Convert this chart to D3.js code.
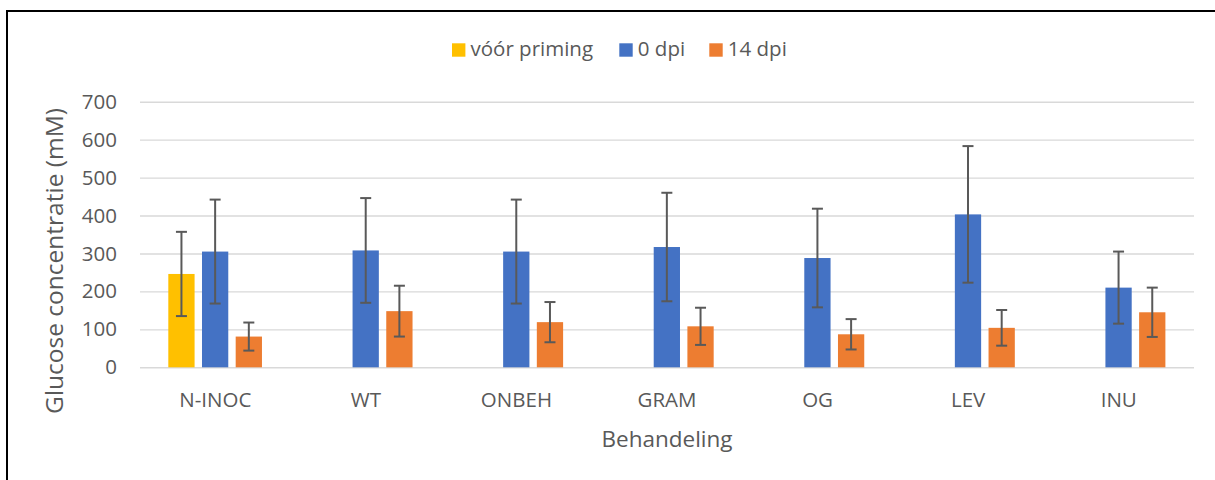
<!DOCTYPE html>
<html>
<head>
<meta charset="utf-8">
<script src="https://cdn.jsdelivr.net/npm/d3@7"></script>
<style>
  html, body { margin: 0; padding: 0; background: #fff; }
  svg text { font-family: "Open Sans", sans-serif; fill: #595959; }
</style>
</head>
<body>
<svg id="chart" width="1215" height="480"></svg>
<script>
// Glucose concentration per treatment, three sampling moments
const categories = ["N-INOC", "WT", "ONBEH", "GRAM", "OG", "LEV", "INU"];
const seriesNames = ["vóór priming", "0 dpi", "14 dpi"];
const seriesColors = ["#FFC000", "#4472C4", "#ED7D31"];

const voorPriming = [246, null, null, null, null, null, null];
const dpi0 = [305, 308, 305, 317, 288, 403, 210];
const dpi14 = [81, 148, 119, 108, 87, 104, 145];

// error bar half-widths (± value)
const errVoorPriming = [111, null, null, null, null, null, null];
const errDpi0 = [137, 138, 137, 143, 130, 180, 95];
const errDpi14 = [37, 67, 53, 49, 40, 47, 65];

const yTicks = [0, 100, 200, 300, 400, 500, 600, 700];
const yTitle = "Glucose concentratie (mM)";
const xTitle = "Behandeling";

const seriesValues = [voorPriming, dpi0, dpi14];
const seriesErrors = [errVoorPriming, errDpi0, errDpi14];

const svg = d3.select("#chart");

// outer frame
svg.append("rect")
  .attr("x", 7).attr("y", 11)
  .attr("width", 1220).attr("height", 480)
  .attr("fill", "none").attr("stroke", "#000").attr("stroke-width", 2);

const plot = { left: 140, right: 1194, top: 101.7, bottom: 367.3 };

const x = d3.scaleBand().domain(categories).range([plot.left, plot.right]).padding(0);
const band = x.bandwidth();
const xs = d3.scaleBand().domain(seriesNames)
  .range([band * 0.188, band * 0.81]).paddingInner(0.22);
const y = d3.scaleLinear().domain([0, 700]).range([plot.bottom, plot.top]);

// value axis with gridlines
const yAxis = svg.append("g")
  .attr("transform", `translate(${plot.left},0)`)
  .call(d3.axisLeft(y).tickValues(yTicks).tickSize(-(plot.right - plot.left)).tickPadding(23));
yAxis.select(".domain").remove();
yAxis.selectAll(".tick line").attr("stroke", "#d9d9d9").attr("stroke-width", 1.4);
yAxis.selectAll(".tick text").attr("font-size", 20.5).style("fill", "#595959");

// category axis
const xAxis = svg.append("g")
  .attr("transform", `translate(0,${plot.bottom})`)
  .call(d3.axisBottom(x).tickSize(0));
xAxis.select(".domain").remove();
xAxis.selectAll(".tick text")
  .attr("font-size", 20.5).attr("dy", null).attr("y", 407 - plot.bottom)
  .style("fill", "#595959");

// bars + error bars
seriesNames.forEach((name, si) => {
  const g = svg.append("g");
  const rows = categories.map((c, i) => ({ c, v: seriesValues[si][i], e: seriesErrors[si][i] }))
    .filter(d => d.v != null);

  g.selectAll("rect").data(rows).join("rect")
    .attr("x", d => x(d.c) + xs(name))
    .attr("width", xs.bandwidth())
    .attr("y", d => y(d.v))
    .attr("height", d => y(0) - y(d.v))
    .attr("fill", seriesColors[si]);

  const eb = g.selectAll("g.err").data(rows.filter(d => d.e != null)).join("g").attr("class", "err");
  const cx = d => x(d.c) + xs(name) + xs.bandwidth() / 2;
  eb.append("line")
    .attr("x1", cx).attr("x2", cx)
    .attr("y1", d => y(d.v + d.e)).attr("y2", d => y(d.v - d.e));
  eb.append("line")
    .attr("x1", d => cx(d) - 5.5).attr("x2", d => cx(d) + 5.5)
    .attr("y1", d => y(d.v + d.e)).attr("y2", d => y(d.v + d.e));
  eb.append("line")
    .attr("x1", d => cx(d) - 5.5).attr("x2", d => cx(d) + 5.5)
    .attr("y1", d => y(d.v - d.e)).attr("y2", d => y(d.v - d.e));
  eb.selectAll("line").attr("stroke", "#595959").attr("stroke-width", 2);
});

// axis titles
svg.append("text")
  .attr("x", (plot.left + plot.right) / 2).attr("y", 447)
  .attr("text-anchor", "middle").attr("font-size", 22.5)
  .text(xTitle);

svg.append("text")
  .attr("transform", "translate(63,261) rotate(-90)")
  .attr("text-anchor", "middle").attr("font-size", 24.5)
  .text(yTitle);

// legend
const legend = svg.append("g");
const legendX = [452, 619.3, 709.3];
seriesNames.forEach((name, i) => {
  legend.append("rect")
    .attr("x", legendX[i]).attr("y", 43.3)
    .attr("width", 13.4).attr("height", 13.4)
    .attr("fill", seriesColors[i]);
  legend.append("text")
    .attr("x", legendX[i] + 18.5).attr("y", 55.7)
    .attr("font-size", 20.5)
    .text(name);
});
</script>
</body>
</html>
